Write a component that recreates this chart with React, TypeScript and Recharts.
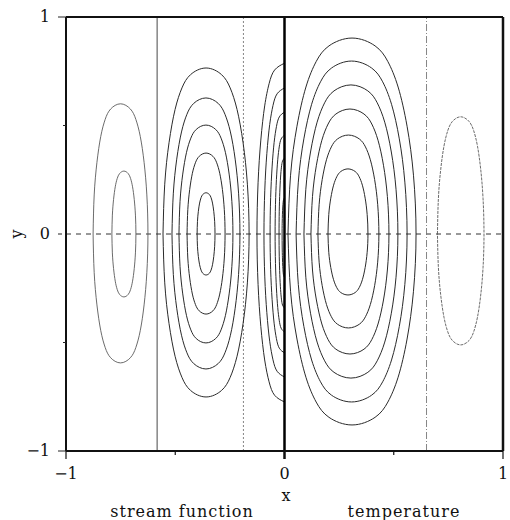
import { ComposedChart, Line, ReferenceLine, XAxis, YAxis } from "recharts";

// contour extents (x at y=0, tops/bottoms at the centre)
const leftOuterLefts = [-0.876, -0.79];
const leftOuterRights = [-0.625, -0.68];
const leftOuterTops = [0.6, 0.29];
const leftOuterBottoms = [-0.594, -0.29];

const streamLefts = [-0.556, -0.515, -0.483, -0.446, -0.4];
const streamRights = [-0.162, -0.204, -0.236, -0.272, -0.318];
const streamTops = [0.765, 0.627, 0.502, 0.373, 0.19];
const streamBottoms = [-0.751, -0.622, -0.502, -0.369, -0.189];

// half contours ending on x = 0
const cutLefts = [-0.126, -0.094, -0.066, -0.043, -0.025, -0.011];
const cutTops = [0.787, 0.673, 0.562, 0.456, 0.35, 0.166];
const cutBottoms = [-0.774, -0.659, -0.548, -0.452, -0.341, -0.2];

const tempLefts = [0.016, 0.053, 0.089, 0.121, 0.153, 0.199];
const tempRights = [0.602, 0.561, 0.519, 0.478, 0.432, 0.382];
const tempTops = [0.903, 0.797, 0.687, 0.576, 0.456, 0.3];
const tempBottoms = [-0.88, -0.774, -0.664, -0.553, -0.433, -0.281];

const rightOuterLefts = [0.7];
const rightOuterRights = [0.913];
const rightOuterTops = [0.54];
const rightOuterBottoms = [-0.511];

// contour profile (relative height -> relative half width) read from the loops
const riseLevels = [0, 0.3, 0.55, 0.75, 0.88, 0.96, 1];
const riseWidths = [1, 0.96, 0.86, 0.72, 0.56, 0.36, 0];

const xTicks = [-1, -0.5, 0, 0.5, 1];
const yTicks = [-1, -0.5, 0, 0.5, 1];
const tickText: Record<string, string> = { "-1": "\u22121", "0": "0", "1": "1" };

const zeroLines = [-0.583, -0.188, 0.65];

type Pt = { x: number; y: number };

const PLOT_BOTTOM = 451;
const PLOT_LEFT = 66;
const FONT = "DejaVu Serif, serif";

function closedContour(left: number, right: number, top: number, bottom: number): Pt[] {
  const c = (left + right) / 2;
  const hw = (right - left) / 2;
  const pts: Pt[] = [];
  for (let i = 0; i < riseLevels.length; i++) pts.push({ x: c - hw * riseWidths[i], y: top * riseLevels[i] });
  for (let i = riseLevels.length - 2; i >= 0; i--) pts.push({ x: c + hw * riseWidths[i], y: top * riseLevels[i] });
  for (let i = 1; i < riseLevels.length; i++) pts.push({ x: c + hw * riseWidths[i], y: bottom * riseLevels[i] });
  for (let i = riseLevels.length - 2; i >= 0; i--) pts.push({ x: c - hw * riseWidths[i], y: bottom * riseLevels[i] });
  return pts;
}

function halfContour(left: number, top: number, bottom: number): Pt[] {
  const hw = -left;
  const pts: Pt[] = [];
  for (let i = riseLevels.length - 1; i >= 0; i--) pts.push({ x: -hw * riseWidths[i], y: top * riseLevels[i] });
  for (let i = 1; i < riseLevels.length; i++) pts.push({ x: -hw * riseWidths[i], y: bottom * riseLevels[i] });
  return pts;
}

const leftOuter = leftOuterLefts.map((l, i) => closedContour(l, leftOuterRights[i], leftOuterTops[i], leftOuterBottoms[i]));
const stream = streamLefts.map((l, i) => closedContour(l, streamRights[i], streamTops[i], streamBottoms[i]));
const cut = cutLefts.map((l, i) => halfContour(l, cutTops[i], cutBottoms[i]));
const temp = tempLefts.map((l, i) => closedContour(l, tempRights[i], tempTops[i], tempBottoms[i]));
const rightOuter = rightOuterLefts.map((l, i) => closedContour(l, rightOuterRights[i], rightOuterTops[i], rightOuterBottoms[i]));

function XTick(p: any) {
  const v = p.payload.value;
  const label = tickText[String(v)];
  return (
    <g>
      <line x1={p.x} x2={p.x} y1={PLOT_BOTTOM} y2={PLOT_BOTTOM + (label ? 8 : 4)} stroke="#111" strokeWidth={v === 0 ? 2.5 : 1.2} />
      {label && (
        <text x={p.x} y={479} textAnchor="middle" fontSize={16} fontFamily={FONT} fill="#111">
          {label}
        </text>
      )}
    </g>
  );
}

function YTick(p: any) {
  const v = p.payload.value;
  const label = tickText[String(v)];
  return (
    <g>
      <line
        x1={PLOT_LEFT - (label ? 8 : 3)}
        x2={PLOT_LEFT}
        y1={p.y}
        y2={p.y}
        stroke="#222"
        strokeWidth={1}
        strokeDasharray={v === 0 ? "4 4" : undefined}
      />
      {label && (
        <text x={50} y={p.y + 5} textAnchor="end" fontSize={16} fontFamily={FONT} fill="#111">
          {label}
        </text>
      )}
    </g>
  );
}

const contourLine = (pts: Pt[], key: string, style: "dark" | "soft" | "dotted" = "dark") => (
  <Line
    key={key}
    data={pts}
    dataKey="y"
    type="natural"
    dot={false}
    activeDot={false}
    stroke={style === "dark" ? "#2a2a2a" : "#5a5a5a"}
    strokeWidth={style === "dark" ? 1 : 0.9}
    strokeDasharray={style === "dotted" ? "3 1" : undefined}
    isAnimationActive={false}
  />
);

export default function App() {
  return (
    <div style={{ position: "absolute", left: 0, top: 0, width: 510, height: 520, background: "#fff" }}>
      <ComposedChart width={510} height={520} margin={{ top: 17, right: 7, bottom: 0, left: 0 }}>
        <XAxis
          type="number"
          dataKey="x"
          domain={[-1, 1]}
          ticks={xTicks}
          interval={0}
          height={69}
          axisLine={false}
          tickLine={false}
          tick={XTick}
          allowDataOverflow
        />
        <YAxis
          type="number"
          domain={[-1, 1]}
          ticks={yTicks}
          interval={0}
          width={66}
          axisLine={false}
          tickLine={false}
          tick={YTick}
          allowDataOverflow
        />
        <ReferenceLine y={0} stroke="#333" strokeWidth={1} strokeDasharray="5 5" />
        <ReferenceLine x={zeroLines[0]} stroke="#333" strokeWidth={0.9} />
        <ReferenceLine x={zeroLines[1]} stroke="#777" strokeWidth={0.9} strokeDasharray="2 2" />
        <ReferenceLine x={zeroLines[2]} stroke="#777" strokeWidth={0.9} strokeDasharray="7 2 1 2" />
        {leftOuter.map((pts, i) => contourLine(pts, `lo${i}`, "soft"))}
        {stream.map((pts, i) => contourLine(pts, `s${i}`))}
        {cut.map((pts, i) => contourLine(pts, `c${i}`))}
        {temp.map((pts, i) => contourLine(pts, `t${i}`))}
        {rightOuter.map((pts, i) => contourLine(pts, `ro${i}`, "dotted"))}
        <ReferenceLine x={0} stroke="#000" strokeWidth={2.5} />
        <ReferenceLine x={-1} stroke="#111" strokeWidth={2} />
        <ReferenceLine x={1} stroke="#111" strokeWidth={2.5} />
        <ReferenceLine y={1} stroke="#111" strokeWidth={2} />
        <ReferenceLine y={-1} stroke="#111" strokeWidth={1.8} />
      </ComposedChart>
      <svg width={510} height={520} style={{ position: "absolute", left: 0, top: 0, pointerEvents: "none" }}>
        <text x={16} y={234} transform="rotate(-90 16 234)" textAnchor="middle" dominantBaseline="central" fontSize={16} fontFamily={FONT} fill="#111">
          y
        </text>
        <text x={286} y={501} textAnchor="middle" fontSize={16} fontFamily={FONT} fill="#111">
          x
        </text>
        <text x={182} y={517} textAnchor="middle" fontSize={16} fontFamily={FONT} fill="#111" letterSpacing={1}>
          stream function
        </text>
        <text x={404} y={517} textAnchor="middle" fontSize={16} fontFamily={FONT} fill="#111" letterSpacing={1}>
          temperature
        </text>
      </svg>
    </div>
  );
}
